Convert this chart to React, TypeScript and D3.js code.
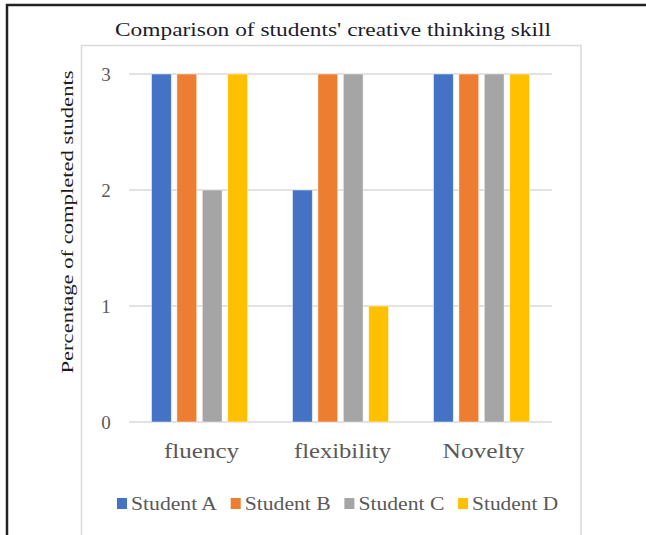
import React from "react";
import * as d3 from "d3";

const categories = ["fluency", "flexibility", "Novelty"];
const series = ["Student A", "Student B", "Student C", "Student D"];
const valuesA = [3, 2, 3];
const valuesB = [3, 3, 3];
const valuesC = [2, 3, 3];
const valuesD = [3, 1, 3];
const yTicks = [0, 1, 2, 3];
const colors = ["#4472C4", "#ED7D31", "#A5A5A5", "#FFC000"];
const seriesValues = [valuesA, valuesB, valuesC, valuesD];

export default function App() {
  const W = 646, H = 535;
  const x0 = d3.scaleBand<string>().domain(categories).range([129, 552]);
  const x1 = d3.scaleBand<string>().domain(series).range([22.5, 118.5]).paddingInner(0.22);
  const y = d3.scaleLinear().domain([0, 3]).range([422, 74]);
  const font = "'Liberation Serif', 'Times New Roman', serif";

  return (
    <div style={{ position: "absolute", left: 0, top: 0 }}>
      <svg width={W} height={H} style={{ display: "block", background: "#fff" }}>
        {/* outer frame */}
        <path d="M7,545 L7,5 L660,5" fill="none" stroke="#222" strokeWidth={2.5} />
        {/* inner chart box */}
        <rect x={81.5} y={45.5} width={499.5} height={520} fill="none" stroke="#d9d9d9" strokeWidth={1.5} />
        {/* title */}
        <text x={333} y={36} textAnchor="middle" fontFamily={font} fontSize={18} fill="#1c1c2c"
          textLength={436} lengthAdjust="spacingAndGlyphs">
          Comparison of students' creative thinking skill
        </text>
        {/* gridlines */}
        {yTicks.map((t) => (
          <line key={"g" + t} x1={129} x2={552} y1={y(t)} y2={y(t)} stroke="#d9d9d9" strokeWidth={1.3} />
        ))}
        {/* y tick labels */}
        {yTicks.map((t) => (
          <text key={"t" + t} x={106} y={y(t)} dy="0.35em" textAnchor="middle" fontFamily={font}
            fontSize={19} fill="#595959">{t}</text>
        ))}
        {/* y axis title */}
        <text transform="translate(73,222) rotate(-90)" textAnchor="middle" fontFamily={font}
          fontSize={16} fill="#1c1c1c" textLength={303} lengthAdjust="spacingAndGlyphs">
          Percentage of completed students
        </text>
        {/* bars */}
        {categories.map((c, ci) => (
          <g key={c} transform={`translate(${x0(c)},0)`}>
            {series.map((s, si) => {
              const v = seriesValues[si][ci];
              return (
                <rect key={s} x={x1(s)} y={y(v)} width={x1.bandwidth()} height={y(0) - y(v)}
                  fill={colors[si]} stroke="#ffffff" strokeOpacity={0.6} strokeWidth={0.8} />
              );
            })}
          </g>
        ))}
        {/* category labels */}
        {categories.map((c) => (
          <text key={"c" + c} x={(x0(c) as number) + x0.bandwidth() / 2 + 2} y={458} textAnchor="middle"
            fontFamily={font} fontSize={21} fill="#595959"
            textLength={c === "fluency" ? 75 : c === "flexibility" ? 97 : 82} lengthAdjust="spacingAndGlyphs">
            {c}
          </text>
        ))}
        {/* legend */}
        {series.map((s, i) => {
          const lx = 117 + i * 113.7;
          return (
            <g key={"l" + s}>
              <rect x={lx} y={498} width={10} height={11} fill={colors[i]} />
              <text x={lx + 14} y={509.5} fontFamily={font} fontSize={19} fill="#595959"
                textLength={86} lengthAdjust="spacingAndGlyphs">{s}</text>
            </g>
          );
        })}
      </svg>
    </div>
  );
}
